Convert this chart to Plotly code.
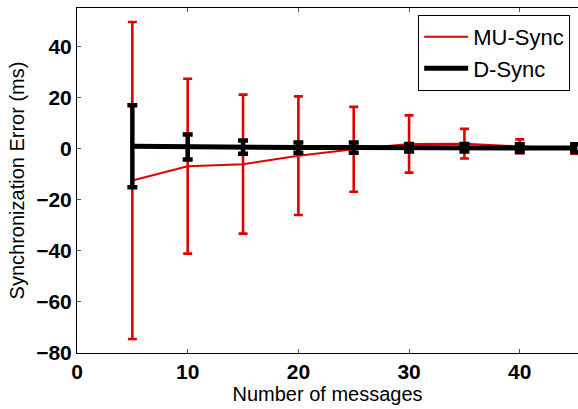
import plotly.graph_objects as go

# Number of messages exchanged
messages = [5, 10, 15, 20, 25, 30, 35, 40, 45]

# MU-Sync: mean synchronization error and its spread (ms)
mu_mean = [-12.5, -6.9, -6.1, -2.8, -0.3, 1.8, 1.9, 0.9, -0.2]
mu_err = [62.0, 34.2, 27.2, 23.2, 16.6, 11.2, 5.8, 2.7, 1.8]

# D-Sync: mean synchronization error and its spread (ms)
d_mean = [0.9, 0.6, 0.6, 0.4, 0.4, 0.3, 0.3, 0.2, 0.2]
d_err = [16.0, 4.9, 2.6, 2.0, 2.0, 1.5, 1.5, 1.5, 1.5]

x_ticks = [0, 10, 20, 30, 40]
y_ticks = [-80, -60, -40, -20, 0, 20, 40]

FONT = "Arial, Liberation Sans, sans-serif"

fig = go.Figure()

fig.add_trace(go.Scatter(
    x=messages, y=mu_mean, name="MU-Sync", mode="lines",
    line=dict(color="#e00000", width=2),
    error_y=dict(type="data", array=mu_err, visible=True,
                 color="#e00000", thickness=2.6, width=4.5),
))

fig.add_trace(go.Scatter(
    x=messages, y=d_mean, name="D-Sync", mode="lines",
    line=dict(color="black", width=5),
    error_y=dict(type="data", array=d_err, visible=True,
                 color="black", thickness=4.5, width=5),
))

fig.update_layout(
    width=578, height=409,
    margin=dict(l=77, r=0, t=8, b=56),
    paper_bgcolor="white", plot_bgcolor="white",
    font=dict(family=FONT, color="black"),
    showlegend=True,
    legend=dict(
        x=0.681, y=0.98, xanchor="left", yanchor="top",
        bgcolor="white", bordercolor="black", borderwidth=1,
        font=dict(family=FONT, size=22, color="black"),
        tracegroupgap=0, itemwidth=44,
        entrywidth=170, entrywidthmode="pixels",
    ),
)

fig.update_xaxes(
    range=[0, 45.26], tickvals=x_ticks,
    showgrid=False, zeroline=False,
    showline=True, linecolor="black", linewidth=1, mirror="ticks",
    ticks="inside", ticklen=4, tickcolor="#555555",
    tickfont=dict(family=FONT, size=21, color="black", weight="bold"),
    title=dict(text="Number of messages", font=dict(family=FONT, size=20, color="black"),
               standoff=4),
)

fig.update_yaxes(
    range=[-80, 55], tickvals=y_ticks,
    showgrid=False, zeroline=False,
    showline=True, linecolor="black", linewidth=1, mirror=False,
    ticks="inside", ticklen=4, tickcolor="#555555",
    tickfont=dict(family=FONT, size=21, color="black", weight="bold"),
    title=dict(text="Synchronization Error (ms)", font=dict(family=FONT, size=20, color="black"),
               standoff=6),
)

fig.write_html("out.html")
